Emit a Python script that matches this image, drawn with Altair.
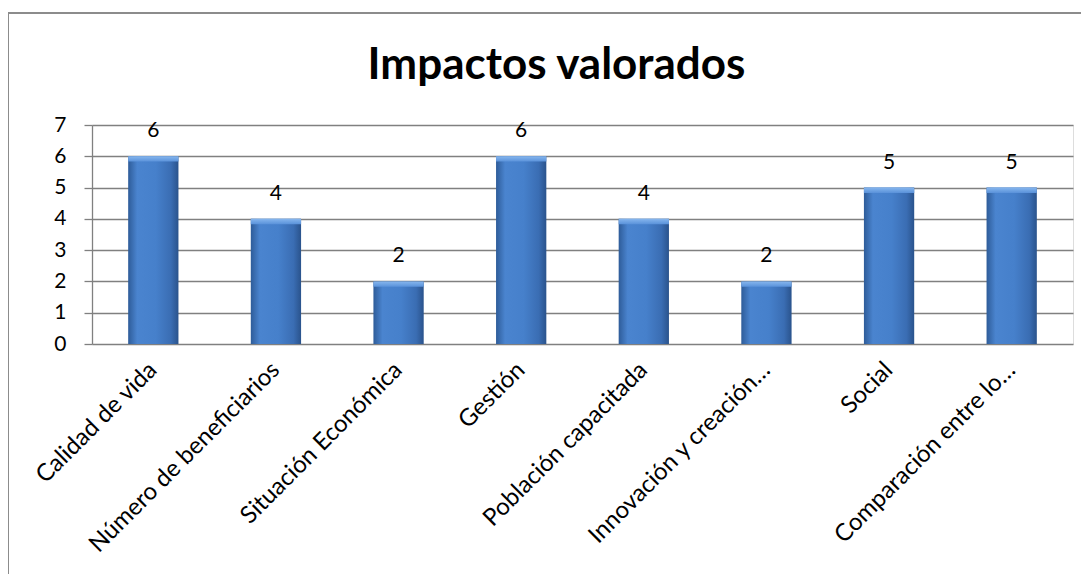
import altair as alt
import pandas as pd

categories = [
    "Calidad de vida",
    "Número de beneficiarios",
    "Situación Económica",
    "Gestión",
    "Población capacitada",
    "Innovación y creación…",
    "Social",
    "Comparación entre lo…",
]
values = [6, 4, 2, 6, 4, 2, 5, 5]
y_ticks = [0, 1, 2, 3, 4, 5, 6, 7]

df = pd.DataFrame({"cat": categories, "val": values})

FONT = "Lato"
GRID = "#808080"

grad = alt.Gradient(
    gradient="linear", x1=0, x2=1, y1=0, y2=0,
    stops=[
        alt.GradientStop(color="#2e5c99", offset=0),
        alt.GradientStop(color="#4a84cf", offset=0.18),
        alt.GradientStop(color="#4680cb", offset=0.55),
        alt.GradientStop(color="#3a6db3", offset=0.85),
        alt.GradientStop(color="#2a538c", offset=1),
    ],
)
bevel = alt.Gradient(
    gradient="linear", x1=0, x2=0, y1=0, y2=1,
    stops=[
        alt.GradientStop(color="#86b6ee", offset=0),
        alt.GradientStop(color="#5a92da", offset=1),
    ],
)

x_enc = alt.X(
    "cat:N", sort=None,
    scale=alt.Scale(paddingInner=0.59, paddingOuter=0.295),
    axis=alt.Axis(
        title=None, labelAngle=-45, labelAlign="right", labelBaseline="middle",
        labelFontSize=24, labelFont=FONT, labelColor="black", ticks=False,
        domain=False, labelPadding=22, labelLimit=0, labelOverlap=False,
    ),
)
y_enc = alt.Y(
    "val:Q",
    scale=alt.Scale(domain=[0, 7], nice=False),
    axis=alt.Axis(
        title=None, values=y_ticks, tickCount=8, grid=True, gridColor=GRID,
        gridWidth=1.3, tickSize=8, tickColor=GRID, tickWidth=1.3,
        domainColor=GRID, domainWidth=1.3, labelFontSize=21, labelFont=FONT,
        labelColor="black", labelPadding=18, format="d", labelOverlap=False,
    ),
)

base = alt.Chart(df).encode(x=x_enc, y=y_enc)
bars = base.mark_bar(color=grad)
tops = base.transform_calculate(low="datum.val - 0.17").mark_bar(color=bevel).encode(
    y2=alt.Y2("low:Q")
)
labels = base.mark_text(
    dy=-19, baseline="alphabetic", fontSize=21, font=FONT, color="black"
).encode(text="val:Q")

frame_df = pd.DataFrame({"k": [0]})
top_line = alt.Chart(frame_df).mark_rule(color="#8c8c8c", strokeWidth=2).encode(
    x=alt.value(-84), x2=alt.value(989), y=alt.value(-112)
)
left_line = alt.Chart(frame_df).mark_rule(color="#8c8c8c", strokeWidth=2).encode(
    x=alt.value(-84), y=alt.value(-112), y2=alt.value(460)
)

chart = alt.layer(bars, tops, labels, top_line, left_line).properties(
    width=981, height=219,
    title=alt.Title(
        "Impactos valorados", fontSize=44, font=FONT, fontWeight="bold",
        anchor="middle", dx=-26, offset=-76, color="black",
    ),
    autosize=alt.AutoSizeParams(type="none"),
    padding={"left": 84, "top": 117, "right": 8, "bottom": 230},
).configure_view(stroke=None).configure(background="white")

chart.save("out.html", embed_options={"renderer": "svg", "actions": False})
